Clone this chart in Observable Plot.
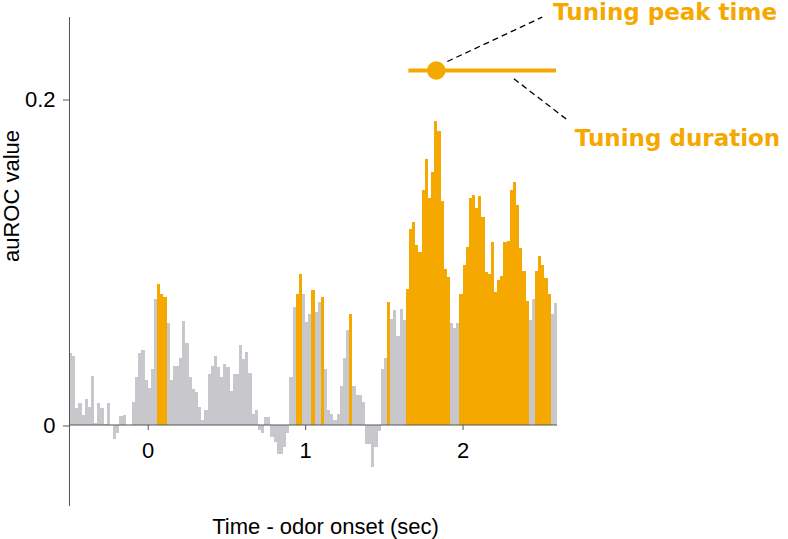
<!DOCTYPE html>
<html>
<head>
<meta charset="utf-8">
<script src="https://cdn.jsdelivr.net/npm/d3@7"></script>
<script src="https://cdn.jsdelivr.net/npm/@observablehq/plot@0.6"></script>
<style>
  html, body { margin: 0; padding: 0; background: #fff; overflow: hidden; }
</style>
</head>
<body>
<div id="chart"></div>
<script>
// ---- Data ----
const binStart = -0.5;   // sec, left edge of first bin
const binWidth = 0.02;   // sec
const auroc = [
  0.044, 0.042, 0.010, 0.013, 0.006, 0.0155, 0.011, 0.030, 0.001, 0.013,
  0.010, 0.0005, 0.013, 0.000, -0.0086, -0.0055, 0.0055, 0.006, -0.0005, -0.0003,
  0.014, 0.029, 0.044, 0.046, 0.0276, 0.0225, 0.034, 0.0773, 0.0865, 0.080,
  0.078, 0.062, 0.0276, 0.0358, 0.0358, 0.0405, 0.0636, 0.0497, 0.0292, 0.022,
  0.020, 0.011, 0.0027, 0.0088, 0.031, 0.036, 0.042, 0.035, 0.029, 0.037,
  0.035, 0.0207, 0.031, 0.031, 0.0487, 0.040, 0.0446, 0.0317, 0.0067, 0.0088,
  -0.0035, -0.0055, 0.0047, 0.0047, -0.0076, -0.011, -0.0178, -0.0178, -0.0137, -0.0055,
  0.029, 0.072, 0.080, 0.0926, 0.080, 0.063, 0.068, 0.0826, 0.069, 0.075,
  0.078, 0.034, 0.0088, 0.0067, 0.0027, 0.0067, 0.0235, 0.0405, 0.058, 0.068,
  0.0235, 0.018, 0.018, 0.014, -0.0117, -0.0117, -0.026, -0.0137, -0.004, 0.034,
  0.041, 0.0753, 0.065, 0.070, 0.054, 0.0708, 0.0644, 0.083, 0.120, 0.124,
  0.110, 0.106, 0.144, 0.163, 0.139, 0.155, 0.186, 0.180, 0.137, 0.0957,
  0.0906, 0.0624, 0.0595, 0.062, 0.080, 0.0977, 0.109, 0.139, 0.141, 0.133,
  0.140, 0.127, 0.0937, 0.0926, 0.112, 0.081, 0.0885, 0.091, 0.112, 0.1125,
  0.144, 0.149, 0.1346, 0.108, 0.094, 0.0759, 0.0644, 0.0773, 0.094, 0.1035,
  0.0977, 0.0896, 0.080, 0.0677, 0.0746
];
// time ranges (sec) of significantly tuned bins (orange)
const tunedRanges = [
  [0.06, 0.12], [0.94, 0.98], [1.04, 1.06], [1.10, 1.12], [1.28, 1.30],
  [1.52, 1.54], [1.64, 1.92], [1.98, 2.42], [2.46, 2.56]
];
const xTicks = [0, 1, 2];
const xTickLabels = ["0", "1", "2"];
const yTicks = [0, 0.2];
const yTickLabels = ["0", "0.2"];
const xDomain = [-0.5, 2.6];
const yDomain = [-0.05, 0.25];

// annotation (schematic) values
const peakTime = 1.83;
const durationRange = [1.656, 2.594];
const markerLevel = 0.2175;
const peakLeader = {x1: 1.900, y1: 0.2230, x2: 2.503, y2: 0.2502};
const durationLeader = {x1: 2.323, y1: 0.2124, x2: 2.662, y2: 0.1872};
const peakLabel = {x: 2.572, y: 0.2482, text: "Tuning peak time"};
const durationLabel = {x: 2.71, y: 0.171, text: "Tuning duration"};
const xTitle = "Time - odor onset (sec)";
const yTitle = "auROC value";

// ---- Styles ----
const ORANGE = "#f5a800";
const GRAY = "#c8c8cc";
const AXIS = "#555";

const bins = auroc.map((v, i) => {
  const t0 = binStart + i * binWidth;
  const t1 = t0 + binWidth;
  const mid = (t0 + t1) / 2;
  const tuned = tunedRanges.some(([a, b]) => mid > a && mid < b);
  return {t0, t1, v, tuned};
});

const tickSymbol = {
  draw(context) { context.moveTo(0, 0); context.lineTo(0, 5); }
};

const chart = Plot.plot({
  width: 788,
  height: 539,
  marginLeft: 69,
  marginRight: 231,
  marginTop: 17,
  marginBottom: 33,
  style: {fontFamily: "'Liberation Sans', Arial, sans-serif", fontSize: "22px", color: "#000", background: "#fff"},
  x: {domain: xDomain, axis: null},
  y: {domain: yDomain, axis: null},
  marks: [
    Plot.rectY(bins.filter(d => !d.tuned), {x1: "t0", x2: "t1", y: "v", fill: GRAY, shapeRendering: "crispEdges"}),
    Plot.rectY(bins.filter(d => d.tuned), {x1: "t0", x2: "t1", y: "v", fill: ORANGE, shapeRendering: "crispEdges"}),
    Plot.ruleY([0], {stroke: AXIS, strokeWidth: 1}),
    Plot.ruleX([xDomain[0]], {stroke: AXIS, strokeWidth: 1}),
    // y axis ticks + labels
    Plot.axisY(yTicks, {tickSize: 6, tickPadding: 8, stroke: AXIS, tickFormat: (d) => yTickLabels[yTicks.indexOf(d)], label: null, dy: 1}),
    // x axis ticks at y = 0
    Plot.dot(xTicks, {x: d => d, y: 0, symbol: tickSymbol, stroke: AXIS, fill: "none", strokeWidth: 1}),
    Plot.text(xTicks, {x: d => d, y: 0, text: (d, i) => xTickLabels[i], dy: 33, lineAnchor: "bottom"}),
    // axis titles
    Plot.text([yTitle], {frameAnchor: "left", rotate: -90, dx: -51, lineAnchor: "bottom"}),
    Plot.text([xTitle], {frameAnchor: "bottom", dx: 12, dy: 27, lineAnchor: "bottom"}),
    // annotation
    Plot.link([peakLeader], {x1: "x1", y1: "y1", x2: "x2", y2: "y2", stroke: "#000", strokeWidth: 1.3, strokeDasharray: "6,4"}),
    Plot.link([durationLeader], {x1: "x1", y1: "y1", x2: "x2", y2: "y2", stroke: "#000", strokeWidth: 1.3, strokeDasharray: "6,4"}),
    Plot.ruleY([markerLevel], {x1: durationRange[0], x2: durationRange[1], stroke: ORANGE, strokeWidth: 4}),
    Plot.dot([peakTime], {x: d => d, y: markerLevel, r: 9.3, fill: ORANGE, stroke: "none"}),
    Plot.text([peakLabel, durationLabel], {x: "x", y: "y", text: "text", textAnchor: "start", lineAnchor: "bottom",
      fill: ORANGE, fontFamily: "'DejaVu Sans', Verdana, sans-serif", fontWeight: "bold", fontSize: 23})
  ]
});
document.getElementById("chart").appendChild(chart);
</script>
</body>
</html>
